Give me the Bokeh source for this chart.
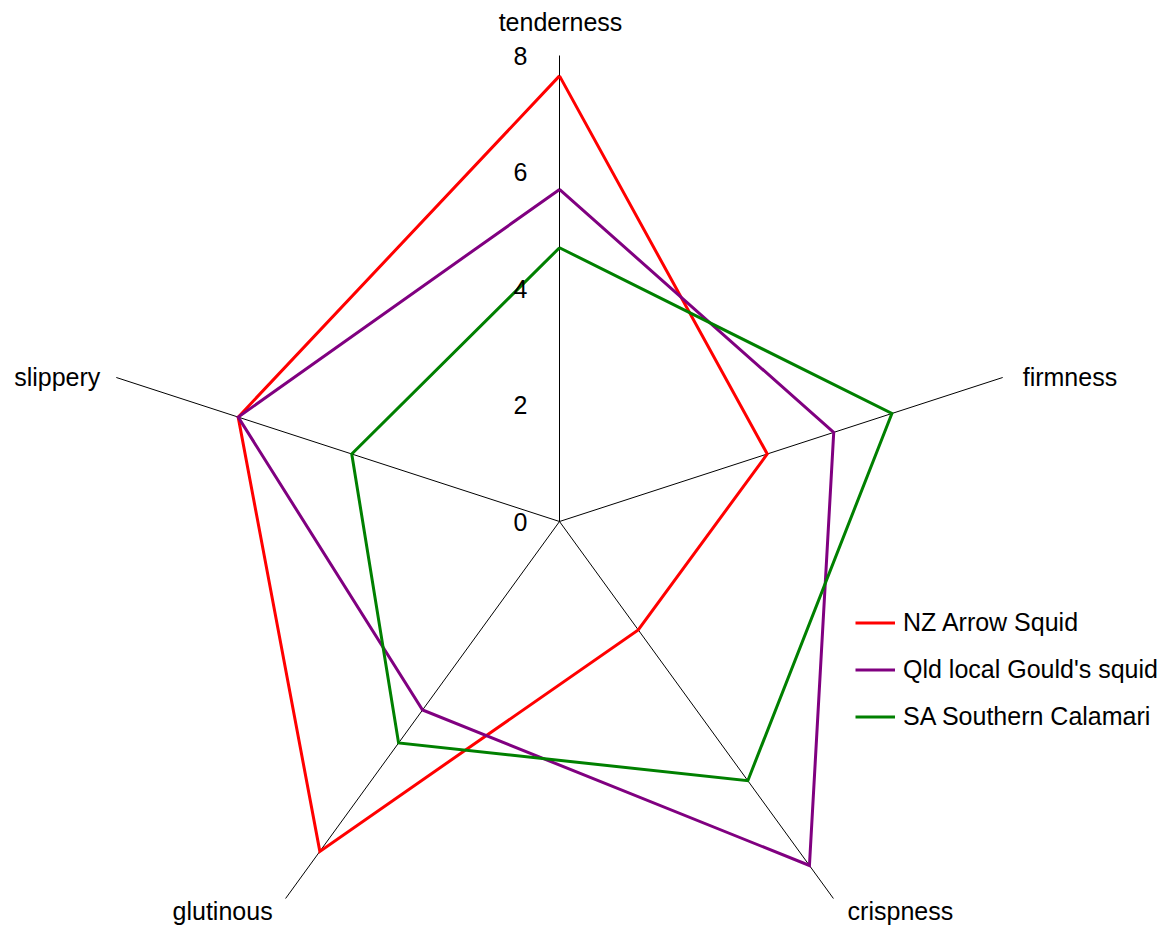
import math
from bokeh.plotting import figure
from bokeh.models import ColumnDataSource, Legend, LegendItem, Range1d
from bokeh.core.properties import value
from bokeh.embed import file_html
from bokeh.resources import INLINE

# Sensory attributes (clockwise from the top) and scores per squid
attributes = ["tenderness", "firmness", "crispness", "glutinous", "slippery"]
nz_arrow = [7.65, 3.75, 2.3, 7.0, 5.8]
qld_goulds = [5.7, 4.95, 7.3, 4.0, 5.8]
sa_calamari = [4.7, 6.0, 5.5, 4.7, 3.75]
series_names = ["NZ Arrow Squid", "Qld local Gould's squid", "SA Southern Calamari"]
series_colors = ["#ff0000", "#800080", "#008000"]
radial_ticks = [0, 2, 4, 6, 8]
r_max = 8

W, H = 1171, 928
scale = 58.25          # pixels per score unit
cx, cy = 559, 521      # centre in pixels
FONT = "Liberation Sans"

p = figure(width=W, height=H, output_backend="svg", toolbar_location=None,
           min_border=0, outline_line_color=None)
p.x_range = Range1d(-cx / scale, (W - cx) / scale)
p.y_range = Range1d(-(H - cy) / scale, cy / scale)
p.axis.visible = False
p.grid.visible = False
p.background_fill_color = "white"

n = len(attributes)
angles = [math.radians(90 - 72 * i) for i in range(n)]

# spokes
p.segment(x0=[0] * n, y0=[0] * n,
          x1=[r_max * math.cos(a) for a in angles],
          y1=[r_max * math.sin(a) for a in angles],
          line_color="black", line_width=1)

# series polygons
renderers = []
for vals, col in zip([nz_arrow, qld_goulds, sa_calamari], series_colors):
    xs = [v * math.cos(a) for v, a in zip(vals, angles)]
    ys = [v * math.sin(a) for v, a in zip(vals, angles)]
    r = p.line(xs + xs[:1], ys + ys[:1], line_color=col, line_width=3,
               line_join="miter")
    renderers.append(r)

# radial tick labels along the top spoke
p.text(x=[0] * len(radial_ticks), y=radial_ticks,
       text=[str(t) for t in radial_ticks],
       x_offset=-39, text_align="center", text_baseline="middle",
       text_font=value(FONT), text_font_size="25px", text_color="black")

# attribute labels beyond the spoke ends
lab_dx = [1, 20, 67, -63, -16]
lab_dy = [-34, 0, 12, 12, 0]
lab_align = ["center", "left", "center", "center", "right"]
lab_src = ColumnDataSource(dict(
    x=[r_max * math.cos(a) for a in angles],
    y=[r_max * math.sin(a) for a in angles],
    text=attributes, dx=lab_dx, dy=lab_dy, align=lab_align))
p.text(x="x", y="y", text="text", x_offset="dx", y_offset="dy",
       text_align="align", text_baseline="middle", source=lab_src,
       text_font=value(FONT), text_font_size="25px", text_color="black")

legend = Legend(items=[LegendItem(label=nm, renderers=[r])
                       for nm, r in zip(series_names, renderers)],
                location=(855, 928 - 740), orientation="vertical",
                glyph_width=40, glyph_height=47, label_height=47,
                label_standoff=8, spacing=0, padding=0, margin=0,
                border_line_color=None, background_fill_alpha=0,
                label_text_font=FONT, label_text_font_size="25px",
                label_text_color="black")
p.add_layout(legend)

open("out.html", "w").write(file_html(p, INLINE))
